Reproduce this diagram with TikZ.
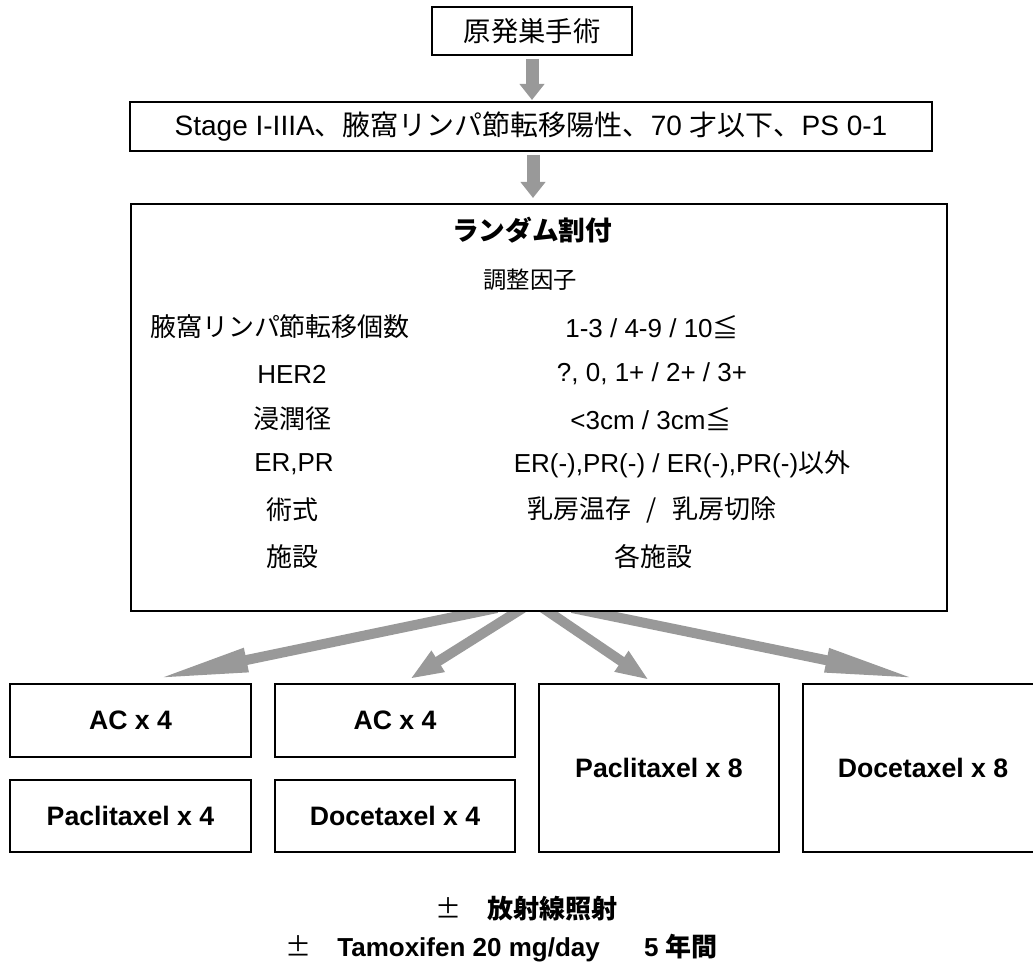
\documentclass[tikz,border=0pt]{standalone}
\usepackage{fontspec}
\setmainfont{Liberation Sans}
\newfontfamily\jp{Noto Sans CJK JP}
\usetikzlibrary{arrows.meta,backgrounds,shadows}
\definecolor{agray}{RGB}{153,153,153}
\begin{document}
\begin{tikzpicture}[x=0.75pt,y=-0.75pt,
  box/.style={draw=black,line width=1.5pt,fill=white,inner sep=0pt,align=center,
    drop shadow={shadow xshift=1.1pt,shadow yshift=-1.1pt,fill=black!35,opacity=1}},
  vfat/.style={draw=agray,line width=9.75pt,-{Triangle[length=12pt,width=18pt]}},
  longfat/.style={draw=agray,line width=7.5pt,-{Triangle[length=70pt,width=16.5pt]}},
  shortfat/.style={draw=agray,line width=7.5pt,-{Triangle[length=25pt,width=17pt]}},
  body/.style={font=\fontsize{19.5}{23}\selectfont,inner sep=0pt},
  boldtxt/.style={font=\fontsize{20}{24}\selectfont\bfseries,inner sep=0pt},
]
\useasboundingbox (0,0) rectangle (1033,973);

% top boxes
\node[box,minimum width=150pt,minimum height=36pt,font=\fontsize{20.5}{24}\selectfont] (top) at (532,31) {\jp 原発巣手術};
\node[box,minimum width=601.5pt,minimum height=36.75pt,font=\fontsize{21}{24}\selectfont] (stage) at (531,126.5)
  {Stage I-IIIA{\jp 、腋窩リンパ節転移陽性、}70 {\jp 才以下、}PS 0-1};
\node[box,minimum width=612pt,minimum height=305.25pt] (big) at (539,407.5) {};

% contents of the big box
\node[inner sep=0pt,font=\fontsize{20}{24}\selectfont] (rand) at (532,230) {\jp\bfseries ランダム割付};
\node[inner sep=0pt,font=\fontsize{17.5}{21}\selectfont] (adj) at (530,280) {\jp 調整因子};

\node[body] (l1) at (280,327) {\jp 腋窩リンパ節転移個数};
\node[body] (l2) at (292,374) {HER2};
\node[body] (l3) at (292,419) {\jp 浸潤径};
\node[body] (l4) at (294,464) {ER,PR};
\node[body] (l5) at (292,510) {\jp 術式};
\node[body] (l6) at (292,557) {\jp 施設};

\node[body] (v1) at (652,327) {1-3 / 4-9 / 10{\jp ≦}};
\node[body] (v2) at (652,374) {?, 0, 1+ / 2+ / 3+};
\node[body] (v3) at (651,419) {<3cm / 3cm{\jp ≦}};
\node[body] (v4) at (682,464) {ER(-),PR(-) / ER(-),PR(-){\jp 以外}};
\node[body] (v5) at (652,510) {\jp 乳房温存\hspace{0.6em}/\hspace{0.6em}乳房切除};
\node[body] (v6) at (653,557) {\jp 各施設};

% treatment boxes
\node[box,minimum width=180.75pt,minimum height=54.75pt,boldtxt] (b1a) at (130.5,720.5) {AC x 4};
\node[box,minimum width=180.75pt,minimum height=54pt,boldtxt] (b1b) at (130.5,816) {Paclitaxel x 4};
\node[box,minimum width=180pt,minimum height=54.75pt,boldtxt] (b2a) at (395,720.5) {AC x 4};
\node[box,minimum width=180pt,minimum height=54pt,boldtxt] (b2b) at (395,816) {Docetaxel x 4};
\node[box,minimum width=180pt,minimum height=126pt,boldtxt] (b3) at (659,768) {Paclitaxel x 8};
\begin{scope}
\clip (0,0) rectangle (1033,973);
\node[box,minimum width=180pt,minimum height=126pt,boldtxt] (b4) at (923,768) {Docetaxel x 8};
\end{scope}

% footer
\node[inner sep=0pt,anchor=west,font=\fontsize{19.5}{23}\selectfont] (rt) at (435,909)
  {{\jp ±}\hspace{1em}{\jp\bfseries 放射線照射}};
\node[inner sep=0pt,anchor=east,font=\fontsize{19.5}{23}\selectfont\bfseries] (tam) at (718,948)
  {{\mdseries\jp ±}\hspace{1em}Tamoxifen 20 mg/day\hspace{1.7em}5 {\jp\bfseries 年間}};

% arrows
\begin{scope}[on background layer]
\draw[vfat] ([yshift=-2.25pt]top.south) -- ([yshift=0.75pt]top.south |- stage.north);
\draw[vfat] ([xshift=1.5pt,yshift=-2.25pt]stage.south) -- ([xshift=1.5pt,yshift=3.75pt]stage.south |- big.north);
\draw[longfat]  ([xshift=-31.5pt,yshift=3pt]big.south) -- ([xshift=18.4pt,yshift=3pt]b1a.north);
\draw[shortfat] ([xshift=-12pt,yshift=3pt]big.south) -- ([xshift=11.25pt,yshift=3pt]b2a.north);
\draw[shortfat] ([xshift=3pt,yshift=3pt]big.south) -- ([xshift=-7.5pt,yshift=2.25pt]b3.north);
\draw[longfat]  ([xshift=24.75pt,yshift=3pt]big.south) -- ([xshift=-3.75pt,yshift=3pt]b4.north);
\end{scope}
\end{tikzpicture}
\end{document}
